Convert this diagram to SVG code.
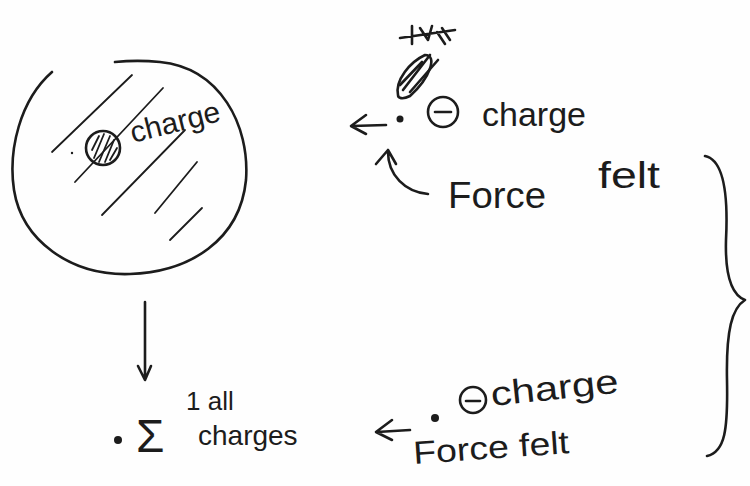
<svg xmlns="http://www.w3.org/2000/svg" width="750" height="486" viewBox="0 0 750 486">
<defs>
<style>
.ln{fill:none;stroke:#1c1c1c;stroke-width:2.6;stroke-linecap:round;stroke-linejoin:round}
.th{fill:none;stroke:#1c1c1c;stroke-width:1.8;stroke-linecap:round}
.tx{font-family:"Liberation Sans",Arial,sans-serif;fill:#1c1c1c}
.dot{fill:#1c1c1c}
</style>
</defs>
<rect width="750" height="486" fill="#fefefe"/>
<g id="region">
<path class="ln" d="M52,72 C20,100 8,150 14,190 C22,240 70,276 130,274 C190,272 240,240 246,180 C250,125 220,68 160,62 C140,60 125,61 115,62"/>
<path class="th" d="M52,152 L132,75 M75,182 L163,88 M102,215 L185,130 M155,213 L197,162 M170,240 L202,208"/>
<circle class="ln" cx="103" cy="148" r="17"/>
<path class="th" d="M94,158 L104,134 M99,162 L110,136 M105,162 L114,140 M92,150 L99,136 M110,160 L117,148" stroke-width="3"/>
<circle class="dot" cx="72" cy="153" r="1.2"/>
<text class="tx" x="133" y="143" font-size="30" transform="rotate(-14 133 143)">charge</text>
</g>
<g id="sum">
<circle class="dot" cx="118" cy="440" r="4"/>
<text class="tx" x="136" y="452" font-size="46">Σ</text>
<text class="tx" x="186" y="410" font-size="26">1 all</text>
<text class="tx" x="198" y="445" font-size="28">charges</text>
</g>
<g id="top-charge">
<circle class="dot" cx="400" cy="119" r="3.5"/>
<circle class="ln" cx="443" cy="112" r="15"/>
<path class="ln" d="M435,112 L451,112"/>
<text class="tx" x="482" y="126" font-size="34">charge</text>
<path class="ln" d="M398,95 C395,80 410,62 425,55 C438,55 430,78 410,96 C402,100 398,98 398,95 Z" stroke-width="3"/>
<path class="ln" d="M403,90 L430,55 M410,92 L438,60 M400,85 L422,62"/>
<path class="ln" d="M400,38 L455,30 M412,26 L412,44 M420,28 L428,40 L432,26 M437,32 L445,44 M442,28 L450,40" stroke-width="2.8"/>
</g>
<g id="top-force">
<text class="tx" x="448" y="208" font-size="36" textLength="98" lengthAdjust="spacingAndGlyphs">Force</text>
<text class="tx" x="598" y="188" font-size="36" textLength="62" lengthAdjust="spacingAndGlyphs">felt</text>
</g>
<g id="bottom-charge">
<circle class="dot" cx="435" cy="418" r="4"/>
<circle class="ln" cx="473" cy="400" r="13"/>
<path class="ln" d="M466,401 L480,401"/>
<text class="tx" x="492" y="406" font-size="34" textLength="128" lengthAdjust="spacingAndGlyphs" transform="rotate(-6 492 406)">charge</text>
<text class="tx" x="414" y="464" font-size="32" textLength="156" lengthAdjust="spacingAndGlyphs" transform="rotate(-4 414 464)">Force felt</text>
</g>
<g id="connectors">
<path class="ln" d="M145,302 L145,378 M138,366 L145,380 L151,366"/>
<path class="ln" d="M386,125 L352,126 M366,115 L351,126 L366,134"/>
<path class="ln" d="M410,430 L377,432 M392,420 L376,432 L392,440"/>
<path class="ln" d="M428,194 C405,192 388,175 388,152 M376,164 L388,150 L396,164"/>
<path class="ln" d="M705,156 C725,160 728,200 726,240 C725,275 732,295 745,300 C732,308 726,330 727,380 C728,430 725,452 707,456"/>
</g>
</svg>
